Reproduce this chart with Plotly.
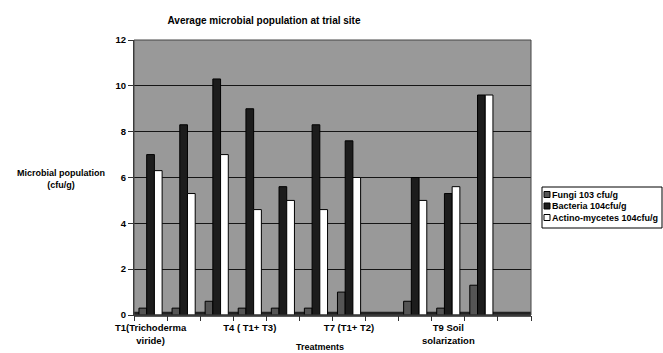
import plotly.graph_objects as go

categories = ["T1", "T2", "T3", "T4", "T5", "T6", "T7", "T8", "T9", "T10", "T11", "T12"]
fungi = [0.3, 0.3, 0.6, 0.3, 0.3, 0.3, 1.0, None, 0.6, 0.3, 1.3, None]
bacteria = [7.0, 8.3, 10.3, 9.0, 5.6, 8.3, 7.6, None, 6.0, 5.3, 9.6, None]
actino = [6.3, 5.3, 7.0, 4.6, 5.0, 4.6, 6.0, None, 5.0, 5.6, 9.6, None]
tick_positions = ["T1", "T4", "T7", "T10"]
tick_labels = ["T1(Trichoderma<br>viride)", "T4 ( T1+ T3)", "T7 (T1+ T2)", "T9 Soil<br>solarization"]
series_names = ["Fungi 103 cfu/g", "Bacteria 104cfu/g", "Actino-mycetes 104cfu/g"]
series_colors = ["#555555", "#1c1c1c", "#ffffff"]

x = list(range(len(categories)))
tickvals = [categories.index(c) for c in tick_positions]

W, H = 663, 353
L, R, T, B = 134, 132, 40, 38
pw, ph = W - L - R, H - T - B

def px(xp):
    return (xp - L) / pw

def py(yp):
    return (H - B - yp) / ph

font = "Liberation Sans, Arial, sans-serif"
fig = go.Figure()
for name, vals, col in zip(series_names, [fungi, bacteria, actino], series_colors):
    fig.add_trace(go.Bar(x=x, y=vals, name=name, showlegend=False,
                         marker=dict(color=col, line=dict(color="#000000", width=1))))

fig.update_layout(
    width=W, height=H,
    margin=dict(l=L, r=R, t=T, b=B, autoexpand=False),
    paper_bgcolor="white", plot_bgcolor="#999999",
    barmode="group", bargap=0.3, bargroupgap=0,
    font=dict(family=font, size=9, color="black"),
    title=dict(text="<b>Average microbial population at trial site</b>", xref="container", x=264 / W,
               xanchor="center", yref="container", y=1 - 20 / H, yanchor="middle",
               font=dict(size=10, family=font)),
    showlegend=False,
)
fig.update_xaxes(range=[-0.5, len(categories) - 0.5], tickvals=tickvals,
                 ticktext=["<b>%s</b>" % t for t in tick_labels],
                 ticks="", showgrid=False, showline=True, linecolor="#333333", linewidth=1,
                 tickfont=dict(size=9.5), zeroline=False, ticklabelstandoff=4,
                 minor=dict(tickvals=[i - 0.5 for i in range(len(categories) + 1)], ticks="outside", ticklen=5,
                            tickcolor="#333333", showgrid=False))
fig.update_yaxes(range=[0, 12], tickvals=[0, 2, 4, 6, 8, 10, 12],
                 ticktext=["<b>%d</b>" % v for v in [0, 2, 4, 6, 8, 10, 12]],
                 ticks="outside", ticklen=5, tickcolor="#333333", showline=True, linecolor="#333333",
                 gridcolor="#151515", gridwidth=1, zeroline=False, tickfont=dict(size=9.5))

# frame and floor for the 3D look
fig.add_shape(type="rect", xref="paper", yref="paper", x0=0, x1=1, y0=0, y1=1,
              line=dict(color="#444444", width=1), fillcolor="rgba(0,0,0,0)", layer="above")
fig.add_shape(type="rect", xref="paper", yref="paper", x0=0, x1=1, y0=-0.006, y1=0.012,
              line=dict(width=0), fillcolor="#222222", layer="below")

# legend (box, swatches, labels)
fig.add_shape(type="rect", xref="paper", yref="paper", x0=px(542), x1=px(662), y0=py(228), y1=py(187),
              line=dict(color="#000000", width=1), fillcolor="white")
for i, (name, col) in enumerate(zip(series_names, series_colors)):
    yc = 194.5 + i * 11.5
    fig.add_shape(type="rect", xref="paper", yref="paper", x0=px(544), x1=px(550), y0=py(yc + 3), y1=py(yc - 3),
                  line=dict(color="#000000", width=1), fillcolor=col)
    fig.add_annotation(text="<b>%s</b>" % name, xref="paper", yref="paper", x=px(550), y=py(yc),
                       xanchor="left", yanchor="middle", showarrow=False, font=dict(size=9, family=font))

fig.add_annotation(text="<b>Microbial population<br>(cfu/g)</b>", xref="paper", yref="paper",
                   x=px(61), y=py(179), xanchor="center", yanchor="middle", showarrow=False,
                   font=dict(size=9, family=font), align="center")
fig.add_annotation(text="<b>Treatments</b>", xref="paper", yref="paper",
                   x=px(320), y=py(347), xanchor="center", yanchor="middle", showarrow=False,
                   font=dict(size=9, family=font))

fig.write_html("out.html", config={"displayModeBar": False},
               post_script="document.body.style.margin='0px';document.body.style.overflow='hidden';")
